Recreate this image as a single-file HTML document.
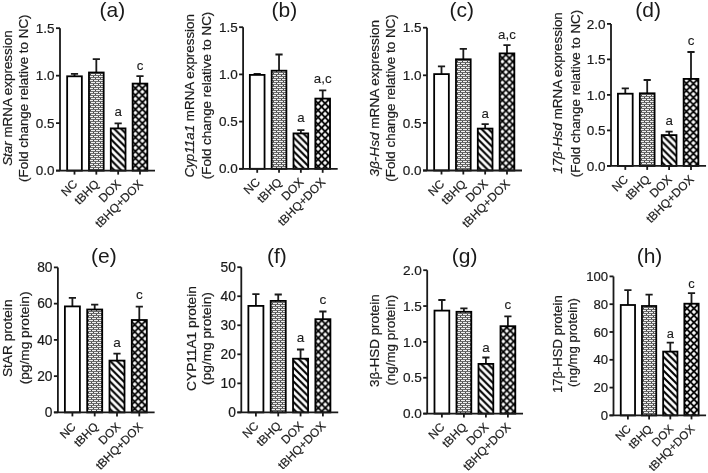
<!DOCTYPE html>
<html><head><meta charset="utf-8"><style>
html,body{margin:0;padding:0;background:#fff;}
svg{display:block;filter:blur(0.3px);}
text{font-family:"Liberation Sans", sans-serif;fill:#1a1a1a;stroke:#1a1a1a;stroke-width:0.2px;}
</style></head><body>
<svg width="708" height="473" viewBox="0 0 708 473">
<defs><pattern id="br0" patternUnits="userSpaceOnUse" x="89" y="72" width="5" height="4"><rect width="5" height="4" fill="#454545"/><rect x="0" y="0" width="4" height="1" fill="#f0f0f0"/><rect x="2" y="2" width="3" height="1" fill="#f0f0f0"/><rect x="0" y="2" width="1" height="1" fill="#f0f0f0"/><rect x="0" y="1" width="5" height="1" fill="#6a6a6a"/><rect x="0" y="3" width="5" height="1" fill="#6a6a6a"/></pattern><pattern id="st0" patternUnits="userSpaceOnUse" x="111.71" y="167.7" width="6.9" height="6.9"><rect width="6.9" height="6.9" fill="#fff"/><path d="M-1,-1 L7.9,7.9 M-4.45,2.45 L4.45,11.350000000000001 M2.45,-4.45 L11.350000000000001,4.45" stroke="#000" stroke-width="2.1"/></pattern><pattern id="cx0" patternUnits="userSpaceOnUse" x="135.39" y="84.8" width="7.0" height="7.0"><rect width="7.0" height="7.0" fill="#000"/><path d="M0,-2.2 L2.2,0 L0,2.2 L-2.2,0ZM7,-2.2 L9.2,0 L7,2.2 L4.8,0ZM0,4.8 L2.2,7 L0,9.2 L-2.2,7ZM7,4.8 L9.2,7 L7,9.2 L4.8,7ZM3.5,1.3 L5.7,3.5 L3.5,5.7 L1.3,3.5Z" fill="#fff"/></pattern><pattern id="br1" patternUnits="userSpaceOnUse" x="272" y="71" width="5" height="4"><rect width="5" height="4" fill="#454545"/><rect x="0" y="0" width="4" height="1" fill="#f0f0f0"/><rect x="2" y="2" width="3" height="1" fill="#f0f0f0"/><rect x="0" y="2" width="1" height="1" fill="#f0f0f0"/><rect x="0" y="1" width="5" height="1" fill="#6a6a6a"/><rect x="0" y="3" width="5" height="1" fill="#6a6a6a"/></pattern><pattern id="st1" patternUnits="userSpaceOnUse" x="294.41" y="165.9" width="6.9" height="6.9"><rect width="6.9" height="6.9" fill="#fff"/><path d="M-1,-1 L7.9,7.9 M-4.45,2.45 L4.45,11.350000000000001 M2.45,-4.45 L11.350000000000001,4.45" stroke="#000" stroke-width="2.1"/></pattern><pattern id="cx1" patternUnits="userSpaceOnUse" x="318.09" y="99.8" width="7.0" height="7.0"><rect width="7.0" height="7.0" fill="#000"/><path d="M0,-2.2 L2.2,0 L0,2.2 L-2.2,0ZM7,-2.2 L9.2,0 L7,2.2 L4.8,0ZM0,4.8 L2.2,7 L0,9.2 L-2.2,7ZM7,4.8 L9.2,7 L7,9.2 L4.8,7ZM3.5,1.3 L5.7,3.5 L3.5,5.7 L1.3,3.5Z" fill="#fff"/></pattern><pattern id="br2" patternUnits="userSpaceOnUse" x="456" y="59" width="5" height="4"><rect width="5" height="4" fill="#454545"/><rect x="0" y="0" width="4" height="1" fill="#f0f0f0"/><rect x="2" y="2" width="3" height="1" fill="#f0f0f0"/><rect x="0" y="2" width="1" height="1" fill="#f0f0f0"/><rect x="0" y="1" width="5" height="1" fill="#6a6a6a"/><rect x="0" y="3" width="5" height="1" fill="#6a6a6a"/></pattern><pattern id="st2" patternUnits="userSpaceOnUse" x="478.71" y="167.6" width="6.9" height="6.9"><rect width="6.9" height="6.9" fill="#fff"/><path d="M-1,-1 L7.9,7.9 M-4.45,2.45 L4.45,11.350000000000001 M2.45,-4.45 L11.350000000000001,4.45" stroke="#000" stroke-width="2.1"/></pattern><pattern id="cx2" patternUnits="userSpaceOnUse" x="502.39" y="54.6" width="7.0" height="7.0"><rect width="7.0" height="7.0" fill="#000"/><path d="M0,-2.2 L2.2,0 L0,2.2 L-2.2,0ZM7,-2.2 L9.2,0 L7,2.2 L4.8,0ZM0,4.8 L2.2,7 L0,9.2 L-2.2,7ZM7,4.8 L9.2,7 L7,9.2 L4.8,7ZM3.5,1.3 L5.7,3.5 L3.5,5.7 L1.3,3.5Z" fill="#fff"/></pattern><pattern id="br3" patternUnits="userSpaceOnUse" x="640" y="93" width="5" height="4"><rect width="5" height="4" fill="#454545"/><rect x="0" y="0" width="4" height="1" fill="#f0f0f0"/><rect x="2" y="2" width="3" height="1" fill="#f0f0f0"/><rect x="0" y="2" width="1" height="1" fill="#f0f0f0"/><rect x="0" y="1" width="5" height="1" fill="#6a6a6a"/><rect x="0" y="3" width="5" height="1" fill="#6a6a6a"/></pattern><pattern id="st3" patternUnits="userSpaceOnUse" x="662.63" y="163" width="6.9" height="6.9"><rect width="6.9" height="6.9" fill="#fff"/><path d="M-1,-1 L7.9,7.9 M-4.45,2.45 L4.45,11.350000000000001 M2.45,-4.45 L11.350000000000001,4.45" stroke="#000" stroke-width="2.1"/></pattern><pattern id="cx3" patternUnits="userSpaceOnUse" x="686.4" y="80.1" width="7.0" height="7.0"><rect width="7.0" height="7.0" fill="#000"/><path d="M0,-2.2 L2.2,0 L0,2.2 L-2.2,0ZM7,-2.2 L9.2,0 L7,2.2 L4.8,0ZM0,4.8 L2.2,7 L0,9.2 L-2.2,7ZM7,4.8 L9.2,7 L7,9.2 L4.8,7ZM3.5,1.3 L5.7,3.5 L3.5,5.7 L1.3,3.5Z" fill="#fff"/></pattern><pattern id="br4" patternUnits="userSpaceOnUse" x="87" y="310" width="5" height="4"><rect width="5" height="4" fill="#454545"/><rect x="0" y="0" width="4" height="1" fill="#f0f0f0"/><rect x="2" y="2" width="3" height="1" fill="#f0f0f0"/><rect x="0" y="2" width="1" height="1" fill="#f0f0f0"/><rect x="0" y="1" width="5" height="1" fill="#6a6a6a"/><rect x="0" y="3" width="5" height="1" fill="#6a6a6a"/></pattern><pattern id="st4" patternUnits="userSpaceOnUse" x="110.39" y="409.5" width="6.9" height="6.9"><rect width="6.9" height="6.9" fill="#fff"/><path d="M-1,-1 L7.9,7.9 M-4.45,2.45 L4.45,11.350000000000001 M2.45,-4.45 L11.350000000000001,4.45" stroke="#000" stroke-width="2.1"/></pattern><pattern id="cx4" patternUnits="userSpaceOnUse" x="134.7" y="321.2" width="7.0" height="7.0"><rect width="7.0" height="7.0" fill="#000"/><path d="M0,-2.2 L2.2,0 L0,2.2 L-2.2,0ZM7,-2.2 L9.2,0 L7,2.2 L4.8,0ZM0,4.8 L2.2,7 L0,9.2 L-2.2,7ZM7,4.8 L9.2,7 L7,9.2 L4.8,7ZM3.5,1.3 L5.7,3.5 L3.5,5.7 L1.3,3.5Z" fill="#fff"/></pattern><pattern id="br5" patternUnits="userSpaceOnUse" x="271" y="301" width="5" height="4"><rect width="5" height="4" fill="#454545"/><rect x="0" y="0" width="4" height="1" fill="#f0f0f0"/><rect x="2" y="2" width="3" height="1" fill="#f0f0f0"/><rect x="0" y="2" width="1" height="1" fill="#f0f0f0"/><rect x="0" y="1" width="5" height="1" fill="#6a6a6a"/><rect x="0" y="3" width="5" height="1" fill="#6a6a6a"/></pattern><pattern id="st5" patternUnits="userSpaceOnUse" x="293.94" y="409.5" width="6.9" height="6.9"><rect width="6.9" height="6.9" fill="#fff"/><path d="M-1,-1 L7.9,7.9 M-4.45,2.45 L4.45,11.350000000000001 M2.45,-4.45 L11.350000000000001,4.45" stroke="#000" stroke-width="2.1"/></pattern><pattern id="cx5" patternUnits="userSpaceOnUse" x="318.29" y="320.4" width="7.0" height="7.0"><rect width="7.0" height="7.0" fill="#000"/><path d="M0,-2.2 L2.2,0 L0,2.2 L-2.2,0ZM7,-2.2 L9.2,0 L7,2.2 L4.8,0ZM0,4.8 L2.2,7 L0,9.2 L-2.2,7ZM7,4.8 L9.2,7 L7,9.2 L4.8,7ZM3.5,1.3 L5.7,3.5 L3.5,5.7 L1.3,3.5Z" fill="#fff"/></pattern><pattern id="br6" patternUnits="userSpaceOnUse" x="456" y="312" width="5" height="4"><rect width="5" height="4" fill="#454545"/><rect x="0" y="0" width="4" height="1" fill="#f0f0f0"/><rect x="2" y="2" width="3" height="1" fill="#f0f0f0"/><rect x="0" y="2" width="1" height="1" fill="#f0f0f0"/><rect x="0" y="1" width="5" height="1" fill="#6a6a6a"/><rect x="0" y="3" width="5" height="1" fill="#6a6a6a"/></pattern><pattern id="st6" patternUnits="userSpaceOnUse" x="479.39" y="410.7" width="6.9" height="6.9"><rect width="6.9" height="6.9" fill="#fff"/><path d="M-1,-1 L7.9,7.9 M-4.45,2.45 L4.45,11.350000000000001 M2.45,-4.45 L11.350000000000001,4.45" stroke="#000" stroke-width="2.1"/></pattern><pattern id="cx6" patternUnits="userSpaceOnUse" x="503.3" y="327.4" width="7.0" height="7.0"><rect width="7.0" height="7.0" fill="#000"/><path d="M0,-2.2 L2.2,0 L0,2.2 L-2.2,0ZM7,-2.2 L9.2,0 L7,2.2 L4.8,0ZM0,4.8 L2.2,7 L0,9.2 L-2.2,7ZM7,4.8 L9.2,7 L7,9.2 L4.8,7ZM3.5,1.3 L5.7,3.5 L3.5,5.7 L1.3,3.5Z" fill="#fff"/></pattern><pattern id="br7" patternUnits="userSpaceOnUse" x="642" y="306" width="5" height="4"><rect width="5" height="4" fill="#454545"/><rect x="0" y="0" width="4" height="1" fill="#f0f0f0"/><rect x="2" y="2" width="3" height="1" fill="#f0f0f0"/><rect x="0" y="2" width="1" height="1" fill="#f0f0f0"/><rect x="0" y="1" width="5" height="1" fill="#6a6a6a"/><rect x="0" y="3" width="5" height="1" fill="#6a6a6a"/></pattern><pattern id="st7" patternUnits="userSpaceOnUse" x="664.06" y="412.5" width="6.9" height="6.9"><rect width="6.9" height="6.9" fill="#fff"/><path d="M-1,-1 L7.9,7.9 M-4.45,2.45 L4.45,11.350000000000001 M2.45,-4.45 L11.350000000000001,4.45" stroke="#000" stroke-width="2.1"/></pattern><pattern id="cx7" patternUnits="userSpaceOnUse" x="686.9" y="304.9" width="7.0" height="7.0"><rect width="7.0" height="7.0" fill="#000"/><path d="M0,-2.2 L2.2,0 L0,2.2 L-2.2,0ZM7,-2.2 L9.2,0 L7,2.2 L4.8,0ZM0,4.8 L2.2,7 L0,9.2 L-2.2,7ZM7,4.8 L9.2,7 L7,9.2 L4.8,7ZM3.5,1.3 L5.7,3.5 L3.5,5.7 L1.3,3.5Z" fill="#fff"/></pattern></defs>
<rect width="708" height="473" fill="#fff"/>
<g><path d="M74.5,76.3 V73.9 M70.9,73.9 H78.1" stroke="#1a1a1a" stroke-width="1.8" fill="none"/><rect x="67.15" y="76.3" width="14.7" height="94.3" fill="#fff" stroke="#000" stroke-width="1.8"/><path d="M74.5,170.6 V174.6" stroke="#1a1a1a" stroke-width="1.8"/><text transform="translate(78,184.8) rotate(-45)" text-anchor="end" font-size="11.85">NC</text><path d="M96.33,72.5 V59.1 M92.73,59.1 H99.93" stroke="#1a1a1a" stroke-width="1.8" fill="none"/><rect x="88.98" y="72.5" width="14.7" height="98.1" fill="url(#br0)" stroke="#000" stroke-width="1.8"/><path d="M96.33,170.6 V174.6" stroke="#1a1a1a" stroke-width="1.8"/><text transform="translate(99.83,184.8) rotate(-45)" text-anchor="end" font-size="11.85">tBHQ</text><path d="M118.16,128.4 V123.3 M114.56,123.3 H121.76" stroke="#1a1a1a" stroke-width="1.8" fill="none"/><rect x="110.81" y="128.4" width="14.7" height="42.2" fill="url(#st0)" stroke="#000" stroke-width="1.8"/><path d="M118.16,170.6 V174.6" stroke="#1a1a1a" stroke-width="1.8"/><text transform="translate(121.66,184.8) rotate(-45)" text-anchor="end" font-size="11.85">DOX</text><path d="M139.99,83.6 V76.2 M136.39,76.2 H143.59" stroke="#1a1a1a" stroke-width="1.8" fill="none"/><rect x="132.64" y="83.6" width="14.7" height="87" fill="url(#cx0)" stroke="#000" stroke-width="1.8"/><path d="M139.99,170.6 V174.6" stroke="#1a1a1a" stroke-width="1.8"/><text transform="translate(143.49,184.8) rotate(-45)" text-anchor="end" font-size="11.85">tBHQ+DOX</text><path d="M60,28.2 V170.6 M56,170.6 H154.99" stroke="#1a1a1a" stroke-width="1.8" fill="none"/><path d="M56,170.6 H60" stroke="#1a1a1a" stroke-width="1.8"/><text x="54.6" y="175.2" text-anchor="end" font-size="13.5">0.0</text><path d="M56,123.13 H60" stroke="#1a1a1a" stroke-width="1.8"/><text x="54.6" y="127.73" text-anchor="end" font-size="13.5">0.5</text><path d="M56,75.67 H60" stroke="#1a1a1a" stroke-width="1.8"/><text x="54.6" y="80.27" text-anchor="end" font-size="13.5">1.0</text><path d="M56,28.2 H60" stroke="#1a1a1a" stroke-width="1.8"/><text x="54.6" y="32.8" text-anchor="end" font-size="13.5">1.5</text><text x="118.16" y="116.2" text-anchor="middle" font-size="13.3" style="stroke-width:0.1px">a</text><text x="139.99" y="70.1" text-anchor="middle" font-size="13.3" style="stroke-width:0.1px">c</text><text x="112.4" y="16.8" text-anchor="middle" font-size="21" style="stroke:none">(a)</text><text transform="translate(11.8,98.1) rotate(-90)" text-anchor="middle" font-size="13.4"><tspan font-style="italic">Star</tspan> mRNA expression</text><text transform="translate(28.2,98.2) rotate(-90)" text-anchor="middle" font-size="13.4">(Fold change relative to NC)</text></g>
<g><path d="M257.2,74.9 V74 M253.6,74 H260.8" stroke="#1a1a1a" stroke-width="1.8" fill="none"/><rect x="249.85" y="74.9" width="14.7" height="93.9" fill="#fff" stroke="#000" stroke-width="1.8"/><path d="M257.2,168.8 V172.8" stroke="#1a1a1a" stroke-width="1.8"/><text transform="translate(260.7,183) rotate(-45)" text-anchor="end" font-size="11.85">NC</text><path d="M279.03,70.7 V54.5 M275.43,54.5 H282.63" stroke="#1a1a1a" stroke-width="1.8" fill="none"/><rect x="271.68" y="70.7" width="14.7" height="98.1" fill="url(#br1)" stroke="#000" stroke-width="1.8"/><path d="M279.03,168.8 V172.8" stroke="#1a1a1a" stroke-width="1.8"/><text transform="translate(282.53,183) rotate(-45)" text-anchor="end" font-size="11.85">tBHQ</text><path d="M300.86,133.4 V130.1 M297.26,130.1 H304.46" stroke="#1a1a1a" stroke-width="1.8" fill="none"/><rect x="293.51" y="133.4" width="14.7" height="35.4" fill="url(#st1)" stroke="#000" stroke-width="1.8"/><path d="M300.86,168.8 V172.8" stroke="#1a1a1a" stroke-width="1.8"/><text transform="translate(304.36,183) rotate(-45)" text-anchor="end" font-size="11.85">DOX</text><path d="M322.69,98.6 V90.4 M319.09,90.4 H326.29" stroke="#1a1a1a" stroke-width="1.8" fill="none"/><rect x="315.34" y="98.6" width="14.7" height="70.2" fill="url(#cx1)" stroke="#000" stroke-width="1.8"/><path d="M322.69,168.8 V172.8" stroke="#1a1a1a" stroke-width="1.8"/><text transform="translate(326.19,183) rotate(-45)" text-anchor="end" font-size="11.85">tBHQ+DOX</text><path d="M243.1,27.2 V168.8 M239.1,168.8 H337.69" stroke="#1a1a1a" stroke-width="1.8" fill="none"/><path d="M239.1,168.8 H243.1" stroke="#1a1a1a" stroke-width="1.8"/><text x="237.7" y="173.4" text-anchor="end" font-size="13.5">0.0</text><path d="M239.1,121.6 H243.1" stroke="#1a1a1a" stroke-width="1.8"/><text x="237.7" y="126.2" text-anchor="end" font-size="13.5">0.5</text><path d="M239.1,74.4 H243.1" stroke="#1a1a1a" stroke-width="1.8"/><text x="237.7" y="79" text-anchor="end" font-size="13.5">1.0</text><path d="M239.1,27.2 H243.1" stroke="#1a1a1a" stroke-width="1.8"/><text x="237.7" y="31.8" text-anchor="end" font-size="13.5">1.5</text><text x="300.86" y="122.1" text-anchor="middle" font-size="13.3" style="stroke-width:0.1px">a</text><text x="322.69" y="83.1" text-anchor="middle" font-size="13.3" style="stroke-width:0.1px">a,c</text><text x="284.4" y="17.3" text-anchor="middle" font-size="21" style="stroke:none">(b)</text><text transform="translate(194,95.75) rotate(-90)" text-anchor="middle" font-size="13.4"><tspan font-style="italic">Cyp11a1</tspan> mRNA expression</text><text transform="translate(211.3,95.4) rotate(-90)" text-anchor="middle" font-size="13.4">(Fold change relative to NC)</text></g>
<g><path d="M441.5,74.1 V66.3 M437.9,66.3 H445.1" stroke="#1a1a1a" stroke-width="1.8" fill="none"/><rect x="434.15" y="74.1" width="14.7" height="96.4" fill="#fff" stroke="#000" stroke-width="1.8"/><path d="M441.5,170.5 V174.5" stroke="#1a1a1a" stroke-width="1.8"/><text transform="translate(445,184.7) rotate(-45)" text-anchor="end" font-size="11.85">NC</text><path d="M463.33,59.3 V48.9 M459.73,48.9 H466.93" stroke="#1a1a1a" stroke-width="1.8" fill="none"/><rect x="455.98" y="59.3" width="14.7" height="111.2" fill="url(#br2)" stroke="#000" stroke-width="1.8"/><path d="M463.33,170.5 V174.5" stroke="#1a1a1a" stroke-width="1.8"/><text transform="translate(466.83,184.7) rotate(-45)" text-anchor="end" font-size="11.85">tBHQ</text><path d="M485.16,128.6 V124.2 M481.56,124.2 H488.76" stroke="#1a1a1a" stroke-width="1.8" fill="none"/><rect x="477.81" y="128.6" width="14.7" height="41.9" fill="url(#st2)" stroke="#000" stroke-width="1.8"/><path d="M485.16,170.5 V174.5" stroke="#1a1a1a" stroke-width="1.8"/><text transform="translate(488.66,184.7) rotate(-45)" text-anchor="end" font-size="11.85">DOX</text><path d="M506.99,53.4 V45.2 M503.39,45.2 H510.59" stroke="#1a1a1a" stroke-width="1.8" fill="none"/><rect x="499.64" y="53.4" width="14.7" height="117.1" fill="url(#cx2)" stroke="#000" stroke-width="1.8"/><path d="M506.99,170.5 V174.5" stroke="#1a1a1a" stroke-width="1.8"/><text transform="translate(510.49,184.7) rotate(-45)" text-anchor="end" font-size="11.85">tBHQ+DOX</text><path d="M427,27.7 V170.5 M423,170.5 H521.99" stroke="#1a1a1a" stroke-width="1.8" fill="none"/><path d="M423,170.5 H427" stroke="#1a1a1a" stroke-width="1.8"/><text x="421.6" y="175.1" text-anchor="end" font-size="13.5">0.0</text><path d="M423,122.9 H427" stroke="#1a1a1a" stroke-width="1.8"/><text x="421.6" y="127.5" text-anchor="end" font-size="13.5">0.5</text><path d="M423,75.3 H427" stroke="#1a1a1a" stroke-width="1.8"/><text x="421.6" y="79.9" text-anchor="end" font-size="13.5">1.0</text><path d="M423,27.7 H427" stroke="#1a1a1a" stroke-width="1.8"/><text x="421.6" y="32.3" text-anchor="end" font-size="13.5">1.5</text><text x="485.16" y="118.3" text-anchor="middle" font-size="13.3" style="stroke-width:0.1px">a</text><text x="506.99" y="39" text-anchor="middle" font-size="13.3" style="stroke-width:0.1px">a,c</text><text x="461.8" y="16.6" text-anchor="middle" font-size="21" style="stroke:none">(c)</text><text transform="translate(378.5,98.25) rotate(-90)" text-anchor="middle" font-size="13.4" textLength="156.5" lengthAdjust="spacingAndGlyphs"><tspan font-style="italic">3β-Hsd</tspan> mRNA expression</text><text transform="translate(395.4,98) rotate(-90)" text-anchor="middle" font-size="13.4">(Fold change relative to NC)</text></g>
<g><path d="M625.3,93.7 V88.3 M621.7,88.3 H628.9" stroke="#1a1a1a" stroke-width="1.8" fill="none"/><rect x="617.93" y="93.7" width="14.75" height="72.2" fill="#fff" stroke="#000" stroke-width="1.8"/><path d="M625.3,165.9 V169.9" stroke="#1a1a1a" stroke-width="1.8"/><text transform="translate(628.8,180.1) rotate(-45)" text-anchor="end" font-size="11.85">NC</text><path d="M647.2,93.3 V80 M643.6,80 H650.8" stroke="#1a1a1a" stroke-width="1.8" fill="none"/><rect x="639.83" y="93.3" width="14.75" height="72.6" fill="url(#br3)" stroke="#000" stroke-width="1.8"/><path d="M647.2,165.9 V169.9" stroke="#1a1a1a" stroke-width="1.8"/><text transform="translate(650.7,180.1) rotate(-45)" text-anchor="end" font-size="11.85">tBHQ</text><path d="M669.1,135.1 V131.6 M665.5,131.6 H672.7" stroke="#1a1a1a" stroke-width="1.8" fill="none"/><rect x="661.73" y="135.1" width="14.75" height="30.8" fill="url(#st3)" stroke="#000" stroke-width="1.8"/><path d="M669.1,165.9 V169.9" stroke="#1a1a1a" stroke-width="1.8"/><text transform="translate(672.6,180.1) rotate(-45)" text-anchor="end" font-size="11.85">DOX</text><path d="M691,78.9 V52 M687.4,52 H694.6" stroke="#1a1a1a" stroke-width="1.8" fill="none"/><rect x="683.63" y="78.9" width="14.75" height="87" fill="url(#cx3)" stroke="#000" stroke-width="1.8"/><path d="M691,165.9 V169.9" stroke="#1a1a1a" stroke-width="1.8"/><text transform="translate(694.5,180.1) rotate(-45)" text-anchor="end" font-size="11.85">tBHQ+DOX</text><path d="M611,23.9 V165.9 M607,165.9 H706.05" stroke="#1a1a1a" stroke-width="1.8" fill="none"/><path d="M607,165.9 H611" stroke="#1a1a1a" stroke-width="1.8"/><text x="605.6" y="170.5" text-anchor="end" font-size="13.54">0.0</text><path d="M607,130.4 H611" stroke="#1a1a1a" stroke-width="1.8"/><text x="605.6" y="135" text-anchor="end" font-size="13.54">0.5</text><path d="M607,94.9 H611" stroke="#1a1a1a" stroke-width="1.8"/><text x="605.6" y="99.5" text-anchor="end" font-size="13.54">1.0</text><path d="M607,59.4 H611" stroke="#1a1a1a" stroke-width="1.8"/><text x="605.6" y="64" text-anchor="end" font-size="13.54">1.5</text><path d="M607,23.9 H611" stroke="#1a1a1a" stroke-width="1.8"/><text x="605.6" y="28.5" text-anchor="end" font-size="13.54">2.0</text><text x="669.1" y="124.9" text-anchor="middle" font-size="13.34" style="stroke-width:0.1px">a</text><text x="691" y="45.1" text-anchor="middle" font-size="13.34" style="stroke-width:0.1px">c</text><text x="648.2" y="16.8" text-anchor="middle" font-size="21" style="stroke:none">(d)</text><text transform="translate(562.3,93) rotate(-90)" text-anchor="middle" font-size="13.4" textLength="161.5" lengthAdjust="spacingAndGlyphs"><tspan font-style="italic">17β-Hsd</tspan> mRNA expression</text><text transform="translate(579.9,93.5) rotate(-90)" text-anchor="middle" font-size="13.4">(Fold change relative to NC)</text></g>
<g><path d="M72.4,306.4 V297.9 M68.8,297.9 H76" stroke="#1a1a1a" stroke-width="1.8" fill="none"/><rect x="64.89" y="306.4" width="15.02" height="106" fill="#fff" stroke="#000" stroke-width="1.8"/><path d="M72.4,412.4 V416.4" stroke="#1a1a1a" stroke-width="1.8"/><text transform="translate(76.6,427.4) rotate(-45)" text-anchor="end" font-size="11.7">NC</text><path d="M94.7,309.5 V304.7 M91.1,304.7 H98.3" stroke="#1a1a1a" stroke-width="1.8" fill="none"/><rect x="87.19" y="309.5" width="15.02" height="102.9" fill="url(#br4)" stroke="#000" stroke-width="1.8"/><path d="M94.7,412.4 V416.4" stroke="#1a1a1a" stroke-width="1.8"/><text transform="translate(98.9,427.4) rotate(-45)" text-anchor="end" font-size="11.7">tBHQ</text><path d="M117,360.6 V353.7 M113.4,353.7 H120.6" stroke="#1a1a1a" stroke-width="1.8" fill="none"/><rect x="109.49" y="360.6" width="15.02" height="51.8" fill="url(#st4)" stroke="#000" stroke-width="1.8"/><path d="M117,412.4 V416.4" stroke="#1a1a1a" stroke-width="1.8"/><text transform="translate(121.2,427.4) rotate(-45)" text-anchor="end" font-size="11.7">DOX</text><path d="M139.3,320 V306.7 M135.7,306.7 H142.9" stroke="#1a1a1a" stroke-width="1.8" fill="none"/><rect x="131.79" y="320" width="15.02" height="92.4" fill="url(#cx4)" stroke="#000" stroke-width="1.8"/><path d="M139.3,412.4 V416.4" stroke="#1a1a1a" stroke-width="1.8"/><text transform="translate(143.5,427.4) rotate(-45)" text-anchor="end" font-size="11.7">tBHQ+DOX</text><path d="M57.9,267.4 V412.4 M53.9,412.4 H154.62" stroke="#1a1a1a" stroke-width="1.8" fill="none"/><path d="M53.9,412.4 H57.9" stroke="#1a1a1a" stroke-width="1.8"/><text x="52.5" y="417" text-anchor="end" font-size="13.79">0</text><path d="M53.9,376.15 H57.9" stroke="#1a1a1a" stroke-width="1.8"/><text x="52.5" y="380.75" text-anchor="end" font-size="13.79">20</text><path d="M53.9,339.9 H57.9" stroke="#1a1a1a" stroke-width="1.8"/><text x="52.5" y="344.5" text-anchor="end" font-size="13.79">40</text><path d="M53.9,303.65 H57.9" stroke="#1a1a1a" stroke-width="1.8"/><text x="52.5" y="308.25" text-anchor="end" font-size="13.79">60</text><path d="M53.9,267.4 H57.9" stroke="#1a1a1a" stroke-width="1.8"/><text x="52.5" y="272" text-anchor="end" font-size="13.79">80</text><text x="117" y="347" text-anchor="middle" font-size="13.59" style="stroke-width:0.1px">a</text><text x="139.3" y="298.5" text-anchor="middle" font-size="13.59" style="stroke-width:0.1px">c</text><text x="103.9" y="262.5" text-anchor="middle" font-size="21" style="stroke:none">(e)</text><text transform="translate(12,338.3) rotate(-90)" text-anchor="middle" font-size="13.7">StAR protein</text><text transform="translate(28.5,337.9) rotate(-90)" text-anchor="middle" font-size="13.7">(pg/mg protein)</text></g>
<g><path d="M255.9,305.9 V294.1 M252.3,294.1 H259.5" stroke="#1a1a1a" stroke-width="1.8" fill="none"/><rect x="248.38" y="305.9" width="15.04" height="106.5" fill="#fff" stroke="#000" stroke-width="1.8"/><path d="M255.9,412.4 V416.4" stroke="#1a1a1a" stroke-width="1.8"/><text transform="translate(259.4,426.6) rotate(-45)" text-anchor="end" font-size="11.85">NC</text><path d="M278.23,300.9 V294.5 M274.63,294.5 H281.83" stroke="#1a1a1a" stroke-width="1.8" fill="none"/><rect x="270.71" y="300.9" width="15.04" height="111.5" fill="url(#br5)" stroke="#000" stroke-width="1.8"/><path d="M278.23,412.4 V416.4" stroke="#1a1a1a" stroke-width="1.8"/><text transform="translate(281.73,426.6) rotate(-45)" text-anchor="end" font-size="11.85">tBHQ</text><path d="M300.56,358.7 V349.5 M296.96,349.5 H304.16" stroke="#1a1a1a" stroke-width="1.8" fill="none"/><rect x="293.04" y="358.7" width="15.04" height="53.7" fill="url(#st5)" stroke="#000" stroke-width="1.8"/><path d="M300.56,412.4 V416.4" stroke="#1a1a1a" stroke-width="1.8"/><text transform="translate(304.06,426.6) rotate(-45)" text-anchor="end" font-size="11.85">DOX</text><path d="M322.89,319.2 V311.5 M319.29,311.5 H326.49" stroke="#1a1a1a" stroke-width="1.8" fill="none"/><rect x="315.37" y="319.2" width="15.04" height="93.2" fill="url(#cx5)" stroke="#000" stroke-width="1.8"/><path d="M322.89,412.4 V416.4" stroke="#1a1a1a" stroke-width="1.8"/><text transform="translate(326.39,426.6) rotate(-45)" text-anchor="end" font-size="11.85">tBHQ+DOX</text><path d="M241.3,267.2 V412.4 M237.3,412.4 H338.23" stroke="#1a1a1a" stroke-width="1.8" fill="none"/><path d="M237.3,412.4 H241.3" stroke="#1a1a1a" stroke-width="1.8"/><text x="235.9" y="417" text-anchor="end" font-size="13.81">0</text><path d="M237.3,383.36 H241.3" stroke="#1a1a1a" stroke-width="1.8"/><text x="235.9" y="387.96" text-anchor="end" font-size="13.81">10</text><path d="M237.3,354.32 H241.3" stroke="#1a1a1a" stroke-width="1.8"/><text x="235.9" y="358.92" text-anchor="end" font-size="13.81">20</text><path d="M237.3,325.28 H241.3" stroke="#1a1a1a" stroke-width="1.8"/><text x="235.9" y="329.88" text-anchor="end" font-size="13.81">30</text><path d="M237.3,296.24 H241.3" stroke="#1a1a1a" stroke-width="1.8"/><text x="235.9" y="300.84" text-anchor="end" font-size="13.81">40</text><path d="M237.3,267.2 H241.3" stroke="#1a1a1a" stroke-width="1.8"/><text x="235.9" y="271.8" text-anchor="end" font-size="13.81">50</text><text x="300.56" y="341.7" text-anchor="middle" font-size="13.6" style="stroke-width:0.1px">a</text><text x="322.89" y="304.1" text-anchor="middle" font-size="13.6" style="stroke-width:0.1px">c</text><text x="276.9" y="263.2" text-anchor="middle" font-size="21" style="stroke:none">(f)</text><text transform="translate(195.5,338.5) rotate(-90)" text-anchor="middle" font-size="13.7">CYP11A1 protein</text><text transform="translate(211.2,338.5) rotate(-90)" text-anchor="middle" font-size="13.7">(pg/mg protein)</text></g>
<g><path d="M441.9,310.6 V300 M438.3,300 H445.5" stroke="#1a1a1a" stroke-width="1.8" fill="none"/><rect x="434.49" y="310.6" width="14.81" height="103" fill="#fff" stroke="#000" stroke-width="1.8"/><path d="M441.9,413.6 V417.6" stroke="#1a1a1a" stroke-width="1.8"/><text transform="translate(445.4,427.8) rotate(-45)" text-anchor="end" font-size="11.85">NC</text><path d="M463.9,311.8 V308.3 M460.3,308.3 H467.5" stroke="#1a1a1a" stroke-width="1.8" fill="none"/><rect x="456.49" y="311.8" width="14.81" height="101.8" fill="url(#br6)" stroke="#000" stroke-width="1.8"/><path d="M463.9,413.6 V417.6" stroke="#1a1a1a" stroke-width="1.8"/><text transform="translate(467.4,427.8) rotate(-45)" text-anchor="end" font-size="11.85">tBHQ</text><path d="M485.9,363.9 V357.5 M482.3,357.5 H489.5" stroke="#1a1a1a" stroke-width="1.8" fill="none"/><rect x="478.49" y="363.9" width="14.81" height="49.7" fill="url(#st6)" stroke="#000" stroke-width="1.8"/><path d="M485.9,413.6 V417.6" stroke="#1a1a1a" stroke-width="1.8"/><text transform="translate(489.4,427.8) rotate(-45)" text-anchor="end" font-size="11.85">DOX</text><path d="M507.9,326.2 V316.3 M504.3,316.3 H511.5" stroke="#1a1a1a" stroke-width="1.8" fill="none"/><rect x="500.49" y="326.2" width="14.81" height="87.4" fill="url(#cx6)" stroke="#000" stroke-width="1.8"/><path d="M507.9,413.6 V417.6" stroke="#1a1a1a" stroke-width="1.8"/><text transform="translate(511.4,427.8) rotate(-45)" text-anchor="end" font-size="11.85">tBHQ+DOX</text><path d="M427.2,270.2 V413.6 M423.2,413.6 H523.02" stroke="#1a1a1a" stroke-width="1.8" fill="none"/><path d="M423.2,413.6 H427.2" stroke="#1a1a1a" stroke-width="1.8"/><text x="421.8" y="418.2" text-anchor="end" font-size="13.61">0.0</text><path d="M423.2,377.75 H427.2" stroke="#1a1a1a" stroke-width="1.8"/><text x="421.8" y="382.35" text-anchor="end" font-size="13.61">0.5</text><path d="M423.2,341.9 H427.2" stroke="#1a1a1a" stroke-width="1.8"/><text x="421.8" y="346.5" text-anchor="end" font-size="13.61">1.0</text><path d="M423.2,306.05 H427.2" stroke="#1a1a1a" stroke-width="1.8"/><text x="421.8" y="310.65" text-anchor="end" font-size="13.61">1.5</text><path d="M423.2,270.2 H427.2" stroke="#1a1a1a" stroke-width="1.8"/><text x="421.8" y="274.8" text-anchor="end" font-size="13.61">2.0</text><text x="485.9" y="352" text-anchor="middle" font-size="13.4" style="stroke-width:0.1px">a</text><text x="507.9" y="308.7" text-anchor="middle" font-size="13.4" style="stroke-width:0.1px">c</text><text x="464.6" y="262.8" text-anchor="middle" font-size="21" style="stroke:none">(g)</text><text transform="translate(378.5,340.7) rotate(-90)" text-anchor="middle" font-size="13.4">3β-HSD protein</text><text transform="translate(394.5,340.2) rotate(-90)" text-anchor="middle" font-size="13.4">(ng/mg protein)</text></g>
<g><path d="M627.9,305 V290.2 M624.3,290.2 H631.5" stroke="#1a1a1a" stroke-width="1.8" fill="none"/><rect x="620.76" y="305" width="14.28" height="110.4" fill="#fff" stroke="#000" stroke-width="1.8"/><path d="M627.9,415.4 V419.4" stroke="#1a1a1a" stroke-width="1.8"/><text transform="translate(631.7,429.6) rotate(-45)" text-anchor="end" font-size="11.45">NC</text><path d="M649.1,306 V294.7 M645.5,294.7 H652.7" stroke="#1a1a1a" stroke-width="1.8" fill="none"/><rect x="641.96" y="306" width="14.28" height="109.4" fill="url(#br7)" stroke="#000" stroke-width="1.8"/><path d="M649.1,415.4 V419.4" stroke="#1a1a1a" stroke-width="1.8"/><text transform="translate(652.9,429.6) rotate(-45)" text-anchor="end" font-size="11.45">tBHQ</text><path d="M670.3,351.6 V342.6 M666.7,342.6 H673.9" stroke="#1a1a1a" stroke-width="1.8" fill="none"/><rect x="663.16" y="351.6" width="14.28" height="63.8" fill="url(#st7)" stroke="#000" stroke-width="1.8"/><path d="M670.3,415.4 V419.4" stroke="#1a1a1a" stroke-width="1.8"/><text transform="translate(674.1,429.6) rotate(-45)" text-anchor="end" font-size="11.45">DOX</text><path d="M691.5,303.7 V293.2 M687.9,293.2 H695.1" stroke="#1a1a1a" stroke-width="1.8" fill="none"/><rect x="684.36" y="303.7" width="14.28" height="111.7" fill="url(#cx7)" stroke="#000" stroke-width="1.8"/><path d="M691.5,415.4 V419.4" stroke="#1a1a1a" stroke-width="1.8"/><text transform="translate(695.3,429.6) rotate(-45)" text-anchor="end" font-size="11.45">tBHQ+DOX</text><path d="M613.5,276.4 V415.4 M609.5,415.4 H706.07" stroke="#1a1a1a" stroke-width="1.8" fill="none"/><path d="M609.5,415.4 H613.5" stroke="#1a1a1a" stroke-width="1.8"/><text x="608.1" y="420" text-anchor="end" font-size="13.11">0</text><path d="M609.5,387.6 H613.5" stroke="#1a1a1a" stroke-width="1.8"/><text x="608.1" y="392.2" text-anchor="end" font-size="13.11">20</text><path d="M609.5,359.8 H613.5" stroke="#1a1a1a" stroke-width="1.8"/><text x="608.1" y="364.4" text-anchor="end" font-size="13.11">40</text><path d="M609.5,332 H613.5" stroke="#1a1a1a" stroke-width="1.8"/><text x="608.1" y="336.6" text-anchor="end" font-size="13.11">60</text><path d="M609.5,304.2 H613.5" stroke="#1a1a1a" stroke-width="1.8"/><text x="608.1" y="308.8" text-anchor="end" font-size="13.11">80</text><path d="M609.5,276.4 H613.5" stroke="#1a1a1a" stroke-width="1.8"/><text x="608.1" y="281" text-anchor="end" font-size="13.11">100</text><text x="670.3" y="338.4" text-anchor="middle" font-size="12.92" style="stroke-width:0.1px">a</text><text x="691.5" y="288.1" text-anchor="middle" font-size="12.92" style="stroke-width:0.1px">c</text><text x="649.5" y="263.2" text-anchor="middle" font-size="21" style="stroke:none">(h)</text><text transform="translate(562,344.2) rotate(-90)" text-anchor="middle" font-size="13.1">17β-HSD protein</text><text transform="translate(577,342.6) rotate(-90)" text-anchor="middle" font-size="13.1">(ng/mg protein)</text></g>
</svg>
</body></html>
